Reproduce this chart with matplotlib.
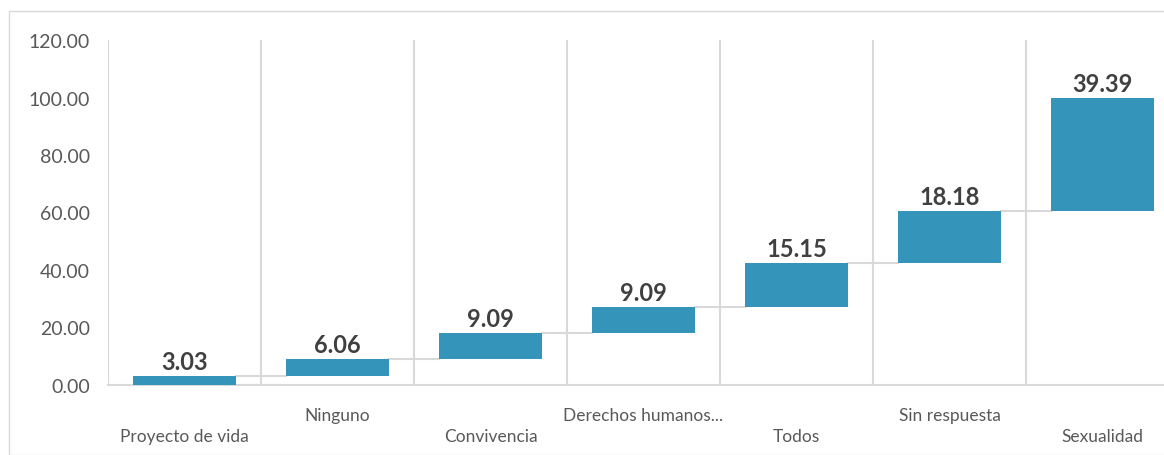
import matplotlib.pyplot as plt
from matplotlib.patches import Rectangle

# Waterfall data
categories = ["Proyecto de vida", "Ninguno", "Convivencia", "Derechos humanos...",
              "Todos", "Sin respuesta", "Sexualidad"]
values = [3.03, 6.06, 9.09, 9.09, 15.15, 18.18, 39.39]

bar_color = "#3594BA"
grid_color = "#D9D9D9"
text_color = "#595959"

plt.rcParams['font.family'] = ['Lato', 'DejaVu Sans']

fig = plt.figure(figsize=(11.64, 4.56), dpi=100)
# frame around the chart area
fig.patches.append(Rectangle((9 / 1164, 0), 1.2, 1 - 12 / 456, transform=fig.transFigure,
                             fill=False, edgecolor="#D9D9D9", linewidth=1))

# axes extends past the right edge as in the reference
ax = fig.add_axes([108 / 1164, 1 - 386 / 456, 1071 / 1164, 345 / 456])

bottoms = []
running = 0
for v in values:
    bottoms.append(running)
    running += v

x = list(range(len(values)))
ax.bar(x, values, bottom=bottoms, width=0.67, color=bar_color, zorder=3)

# connectors
for i in range(len(values) - 1):
    top = bottoms[i] + values[i]
    ax.plot([i + 0.335, i + 1 - 0.335], [top, top], color=grid_color, lw=1.5, zorder=2)

# value labels
for i, v in enumerate(values):
    ax.text(i, bottoms[i] + v + 1.0, f"{v:.2f}", ha="center", va="bottom",
            fontsize=17, fontweight="bold", color="#404040")

ax.set_xlim(-0.5, len(values) - 0.5)
ax.set_ylim(0, 120)
ax.set_yticks(range(0, 121, 20))
ax.set_yticklabels([f"{t:.2f}" for t in range(0, 121, 20)], fontsize=14, color=text_color)

# vertical gridlines at category boundaries
for b in range(len(values)):
    ax.axvline(b - 0.5, color=grid_color, lw=1.5, zorder=1)

ax.set_xticks(x)
ax.set_xticklabels([])
for i, c in enumerate(categories):
    off = -37 if i % 2 == 0 else -21.5
    ax.annotate(c, xy=(i, 0), xytext=(0, off), textcoords="offset points",
                ha="center", va="center", fontsize=12.5, color=text_color,
                annotation_clip=False)

for s in ["top", "right", "left"]:
    ax.spines[s].set_visible(False)
ax.spines["bottom"].set_color(grid_color)
ax.spines["bottom"].set_linewidth(1.5)
ax.tick_params(axis="both", length=0)
ax.tick_params(axis="y", pad=13)

fig.savefig("out.png", dpi=100)
